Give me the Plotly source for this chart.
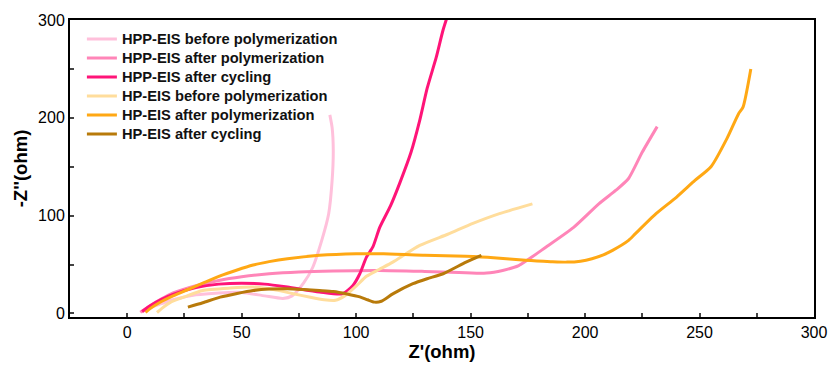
import plotly.graph_objects as go

names = ["HPP-EIS before polymerization", "HPP-EIS after polymerization", "HPP-EIS after cycling",
         "HP-EIS before polymerization", "HP-EIS after polymerization", "HP-EIS after cycling"]
colors = ["#FFC0DB", "#FF85B8", "#FF1478", "#FFDD9C", "#FFA814", "#B87A0A"]

hpp_before_x = [6.4, 10, 15, 20, 30, 40, 50, 60, 68, 72, 77, 81, 85, 88, 89.5, 90, 89.5, 88.5]
hpp_before_y = [1.5, 6, 10, 14, 19, 21, 21.5, 18, 15.4, 18, 31, 47, 75, 102, 136, 167, 190, 203]

hpp_after_x = [5.7, 10, 15, 20, 30, 40, 50, 62, 75, 90, 110, 130, 145, 157, 164, 171, 183, 195, 206, 213.5, 219, 225, 231.5]
hpp_after_y = [1.3, 8, 15, 21, 28.5, 33.8, 37.5, 40.6, 42.5, 43.5, 44, 43, 42, 41.3, 44, 49, 68, 88, 112, 126, 138, 165, 191]

hpp_cyc_x = [6.5, 10, 15, 20, 30, 40, 50, 60, 70, 84, 94, 98.6, 101.6, 104.5, 107.3, 110.3, 115, 119, 124, 127.8, 131, 135, 138, 141]
hpp_cyc_y = [2, 8, 14.5, 19.5, 26.5, 30, 31, 30, 27, 22, 20, 28.7, 40.6, 57.6, 68, 88, 110, 133, 165, 197.6, 230, 262, 290, 312]

hp_before_x = [13, 15, 19, 25, 33, 45, 55, 65, 72, 80, 86, 91, 95, 100, 104.5, 110, 116, 127.8, 140, 151, 162.6, 177]
hp_before_y = [1, 5, 11.6, 17, 23.5, 26, 27, 24, 20.5, 16.5, 14, 13.5, 18, 28, 38, 45, 52.5, 69.6, 81, 92, 102, 112]

hp_after_x = [8, 10, 14, 20, 26, 33, 40.6, 48, 55, 62, 70, 84, 100, 112, 130, 148, 160, 174, 185, 192, 198, 203, 208, 212,
              219, 222, 231, 240, 248, 255, 262, 267, 269, 272.4]
hp_after_y = [1, 5, 11, 18, 24, 31, 38.5, 44.5, 49.5, 53, 56, 59.4, 61, 61, 59.5, 58.4, 57, 54.3, 53, 52.5, 53.5, 56, 60, 64.5,
              74.7, 81.6, 102, 119, 136, 150, 179, 204, 211, 250]

hp_cyc_x = [26.5, 33, 40.6, 48, 55, 62, 70, 77, 84, 90, 96, 101.6, 105, 108, 111, 116, 124.8, 131, 138, 148, 154.7]
hp_cyc_y = [6.5, 11, 16.7, 20.5, 23.5, 25, 25.3, 24.5, 23.5, 22.5, 20, 17, 14, 11.6, 12.5, 20, 30.4, 35.5, 40.6, 52.5, 59.4]

xs = [hpp_before_x, hpp_after_x, hpp_cyc_x, hp_before_x, hp_after_x, hp_cyc_x]
ys = [hpp_before_y, hpp_after_y, hpp_cyc_y, hp_before_y, hp_after_y, hp_cyc_y]

x_ticks = [0, 50, 100, 150, 200, 250, 300]
y_ticks = [0, 100, 200, 300]

font_family = "Liberation Sans, Arial, sans-serif"

fig = go.Figure()
for n, c, x, y in zip(names, colors, xs, ys):
    fig.add_trace(go.Scatter(
        x=x, y=y, mode="lines",
        name="<b><span style='font-size:14.7px'>" + n + "</span></b>",
        line=dict(color=c, width=3, shape="spline", smoothing=0.6)))

fig.update_layout(
    width=834, height=367,
    margin=dict(l=70, r=20, t=20, b=50),
    plot_bgcolor="white", paper_bgcolor="white",
    font=dict(family=font_family, color="black"),
    showlegend=True,
    legend=dict(x=0.016, y=0.985, xanchor="left", yanchor="top",
                bgcolor="rgba(0,0,0,0)", font=dict(size=12, family=font_family, color="#111"),
                tracegroupgap=0, itemwidth=30),
)
fig.update_xaxes(
    range=[-25, 300], tickvals=x_ticks, ticks="inside", ticklen=4, tickwidth=2,
    showline=True, linewidth=2, linecolor="black", mirror=True, showgrid=False, zeroline=False,
    tickfont=dict(size=16, family=font_family), automargin=False,
    minor=dict(dtick=25, tick0=0, ticks="inside", ticklen=4, tickwidth=2, showgrid=False),
    title=dict(text="<b>Z'(ohm)</b>", font=dict(size=18.5, family=font_family), standoff=3),
    tickprefix="<b>", ticksuffix="</b>",
)
fig.update_yaxes(
    range=[-3.6, 300], tickvals=y_ticks, ticks="inside", ticklen=4, tickwidth=2,
    showline=True, linewidth=2, linecolor="black", mirror=True, showgrid=False, zeroline=False,
    tickfont=dict(size=16, family=font_family), automargin=False,
    minor=dict(dtick=50, tick0=0, ticks="inside", ticklen=4, tickwidth=2, showgrid=False),
    title=dict(text="<b>-Z''(ohm)</b>", font=dict(size=18.5, family=font_family), standoff=6),
    tickprefix="<b>", ticksuffix="</b>",
)

fig.write_html("out.html")
